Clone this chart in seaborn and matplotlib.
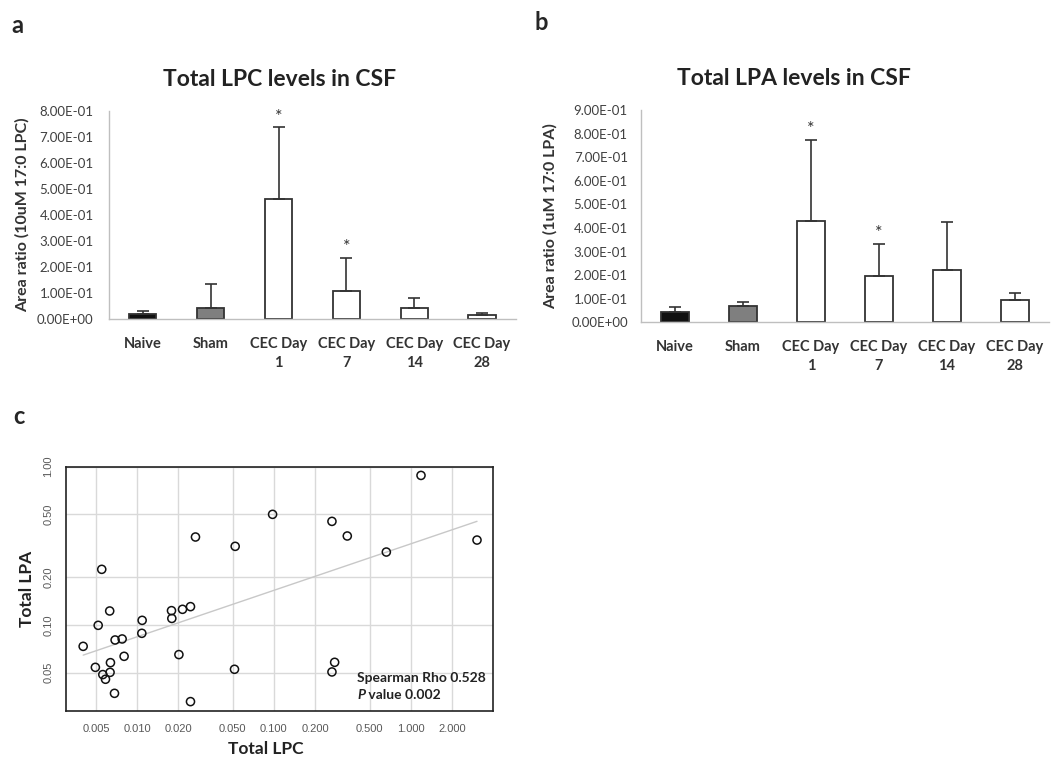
import numpy as np
import pandas as pd
import seaborn as sns
import matplotlib.pyplot as plt

# group labels shared by both bar panels
groups = ["Naive", "Sham", "CEC Day\n1", "CEC Day\n7", "CEC Day\n14", "CEC Day\n28"]

# panel a: total LPC (mean, upper SD)
lpc_mean = [0.020, 0.043, 0.460, 0.107, 0.041, 0.015]
lpc_sd = [0.011, 0.092, 0.277, 0.128, 0.039, 0.007]
lpc_star = [False, False, True, True, False, False]

# panel b: total LPA (mean, upper SD)
lpa_mean = [0.045, 0.069, 0.429, 0.197, 0.222, 0.093]
lpa_sd = [0.018, 0.018, 0.344, 0.135, 0.203, 0.031]
lpa_star = [False, False, True, True, False, False]

# panel c: per-animal totals
total_lpc = [0.00403, 0.00495, 0.00551, 0.00519, 0.00561, 0.00587, 0.00630, 0.00638,
             0.00634, 0.00683, 0.00690, 0.00777, 0.00803, 0.01088, 0.01082, 0.01783,
             0.01793, 0.02146, 0.02455, 0.02020, 0.02670, 0.02455, 0.05210, 0.05150,
             0.09780, 0.26570, 0.34400, 0.27800, 0.26570, 0.66370, 1.19000, 3.05500]
total_lpa = [0.0733, 0.0540, 0.2247, 0.0995, 0.0486, 0.0454, 0.1226, 0.0578,
             0.0502, 0.0370, 0.0804, 0.0816, 0.0634, 0.1070, 0.0886, 0.1232,
             0.1100, 0.1256, 0.1306, 0.0650, 0.3596, 0.0328, 0.3140, 0.0525,
             0.5000, 0.4515, 0.3650, 0.0581, 0.0505, 0.2890, 0.8810, 0.3440]

bar_colors = ["#111111", "#7f7f7f", "white", "white", "white", "white"]
font = "Lato"
gray_txt = "#404040"

fig = plt.figure(figsize=(10.53, 7.59), dpi=100)


def bar_panel(rect, means, sds, stars, ymax, title, title_x, ylabel, ylab_x,
              ypad, letter, letter_xy):
    ax = fig.add_axes(rect)
    df = pd.DataFrame({"group": groups, "value": means})
    sns.barplot(data=df, x="group", y="value", hue="group", palette=bar_colors,
                legend=False, width=0.4, edgecolor="#333333", linewidth=1.3, ax=ax)
    xs = np.arange(len(groups))
    ax.errorbar(xs, means, yerr=[np.zeros(len(sds)), sds], fmt="none",
                ecolor="#333333", elinewidth=1.2, capsize=4, capthick=1.2)
    for x, m, s, st in zip(xs, means, sds, stars):
        if st:
            ax.annotate("*", xy=(x, m + s), xytext=(0, 2), textcoords="offset points",
                        ha="center", va="bottom", fontsize=13, color="#333333",
                        family=font)
    ax.set_xlim(-0.5, len(groups) - 0.5)
    ax.set_ylim(0, ymax)
    ticks = np.arange(0, ymax + 0.001, 0.1)
    ax.set_yticks(ticks)
    ax.set_yticklabels([f"{t:.2E}" for t in ticks], fontsize=9.5, color=gray_txt,
                       family=font)
    ax.set_xticks(xs)
    ax.set_xticklabels(groups, fontsize=10.5, fontweight="bold", color="#333333",
                       family=font, linespacing=1.45)
    ax.tick_params(axis="x", length=0, pad=13)
    ax.tick_params(axis="y", length=0, pad=ypad)
    for side in ["top", "right"]:
        ax.spines[side].set_visible(False)
    for side in ["left", "bottom"]:
        ax.spines[side].set_color("#bfbfbf")
        ax.spines[side].set_linewidth(1.0)
    ax.set_xlabel("")
    ax.set_ylabel(ylabel, fontsize=11.5, fontweight="bold", color="#333333",
                  family=font)
    ax.yaxis.set_label_coords(ylab_x, 0.5)
    ax.set_title(title, fontsize=16.5, fontweight="bold", color="#222222",
                 family=font, pad=18, x=title_x)
    fig.text(letter_xy[0], letter_xy[1], letter, fontsize=17, fontweight="bold",
             family=font, ha="left", va="center")
    return ax


sns.set_style("white")

bar_panel([0.1035, 0.5797, 0.3865, 0.2741], lpc_mean, lpc_sd, lpc_star, 0.8,
          "Total LPC levels in CSF", 0.42, "Area ratio (10uM 17:0 LPC)", -0.195,
          11, "a", (0.011, 0.966))
bar_panel([0.6087, 0.5754, 0.3875, 0.2797], lpa_mean, lpa_sd, lpa_star, 0.9,
          "Total LPA levels in CSF", 0.375, "Area ratio (1uM 17:0 LPA)", -0.205,
          9.5, "b", (0.508, 0.970))

# panel c: log-log scatter with fitted line
axc = fig.add_axes([0.0627, 0.0632, 0.4055, 0.3219])
axc.set_xscale("log")
axc.set_yscale("log")
xt = [0.005, 0.01, 0.02, 0.05, 0.1, 0.2, 0.5, 1.0, 2.0]
yt = [0.05, 0.1, 0.2, 0.5, 1.0]
axc.set_xlim(0.00302, 4.0)
axc.set_ylim(0.0286, 1.0)
for v in xt:
    axc.axvline(v, color="#d9d9d9", lw=1.0, zorder=0)
for v in yt:
    axc.axhline(v, color="#d9d9d9", lw=1.0, zorder=0)

lx = np.log10(total_lpc)
ly = np.log10(total_lpa)
slope, icpt = np.polyfit(lx, ly, 1)
fit_x = np.array([min(total_lpc), max(total_lpc)])
fit_y = 10 ** (icpt + slope * np.log10(fit_x))
sns.lineplot(x=fit_x, y=fit_y, color="#c8c8c8", lw=1.0, ax=axc, zorder=1)
sns.scatterplot(x=total_lpc, y=total_lpa, marker="o", s=34, facecolor="none",
                edgecolor="#111111", linewidth=1.1, ax=axc, zorder=3)

axc.set_xticks(xt)
axc.set_xticklabels([f"{v:.3f}" for v in xt], fontsize=8, color="#595959",
                    family="Liberation Sans")
axc.set_yticks(yt)
axc.set_yticklabels([f"{v:.2f}" for v in yt], fontsize=8, color="#595959",
                    family="Liberation Sans", rotation=90, va="center")
axc.minorticks_off()
axc.tick_params(axis="both", length=4, color="#444444", width=0.8, pad=5)
for side in axc.spines.values():
    side.set_color("#222222")
    side.set_linewidth(1.2)
axc.set_xlabel("Total LPC", fontsize=12.5, fontweight="bold", family=font,
               color="#222222", va="center")
axc.xaxis.set_label_coords(0.467, -0.155)
axc.set_ylabel("Total LPA", fontsize=12.5, fontweight="bold", family=font,
               color="#222222", labelpad=6)

axc.text(0.682, 0.119, "Spearman Rho 0.528", transform=axc.transAxes,
         fontsize=10, fontweight="bold", family=font, color="#222222")
ptxt = axc.text(0.682, 0.049, "P", transform=axc.transAxes, fontsize=10,
                fontweight="bold", fontstyle="italic", family=font,
                color="#222222")
axc.annotate(" value 0.002", xy=(1, 0), xycoords=ptxt, va="bottom",
             fontsize=10, fontweight="bold", family=font, color="#222222")
fig.text(0.013, 0.451, "c", fontsize=17, fontweight="bold", family=font,
         ha="left", va="center")

fig.savefig("out.png", dpi=100)
